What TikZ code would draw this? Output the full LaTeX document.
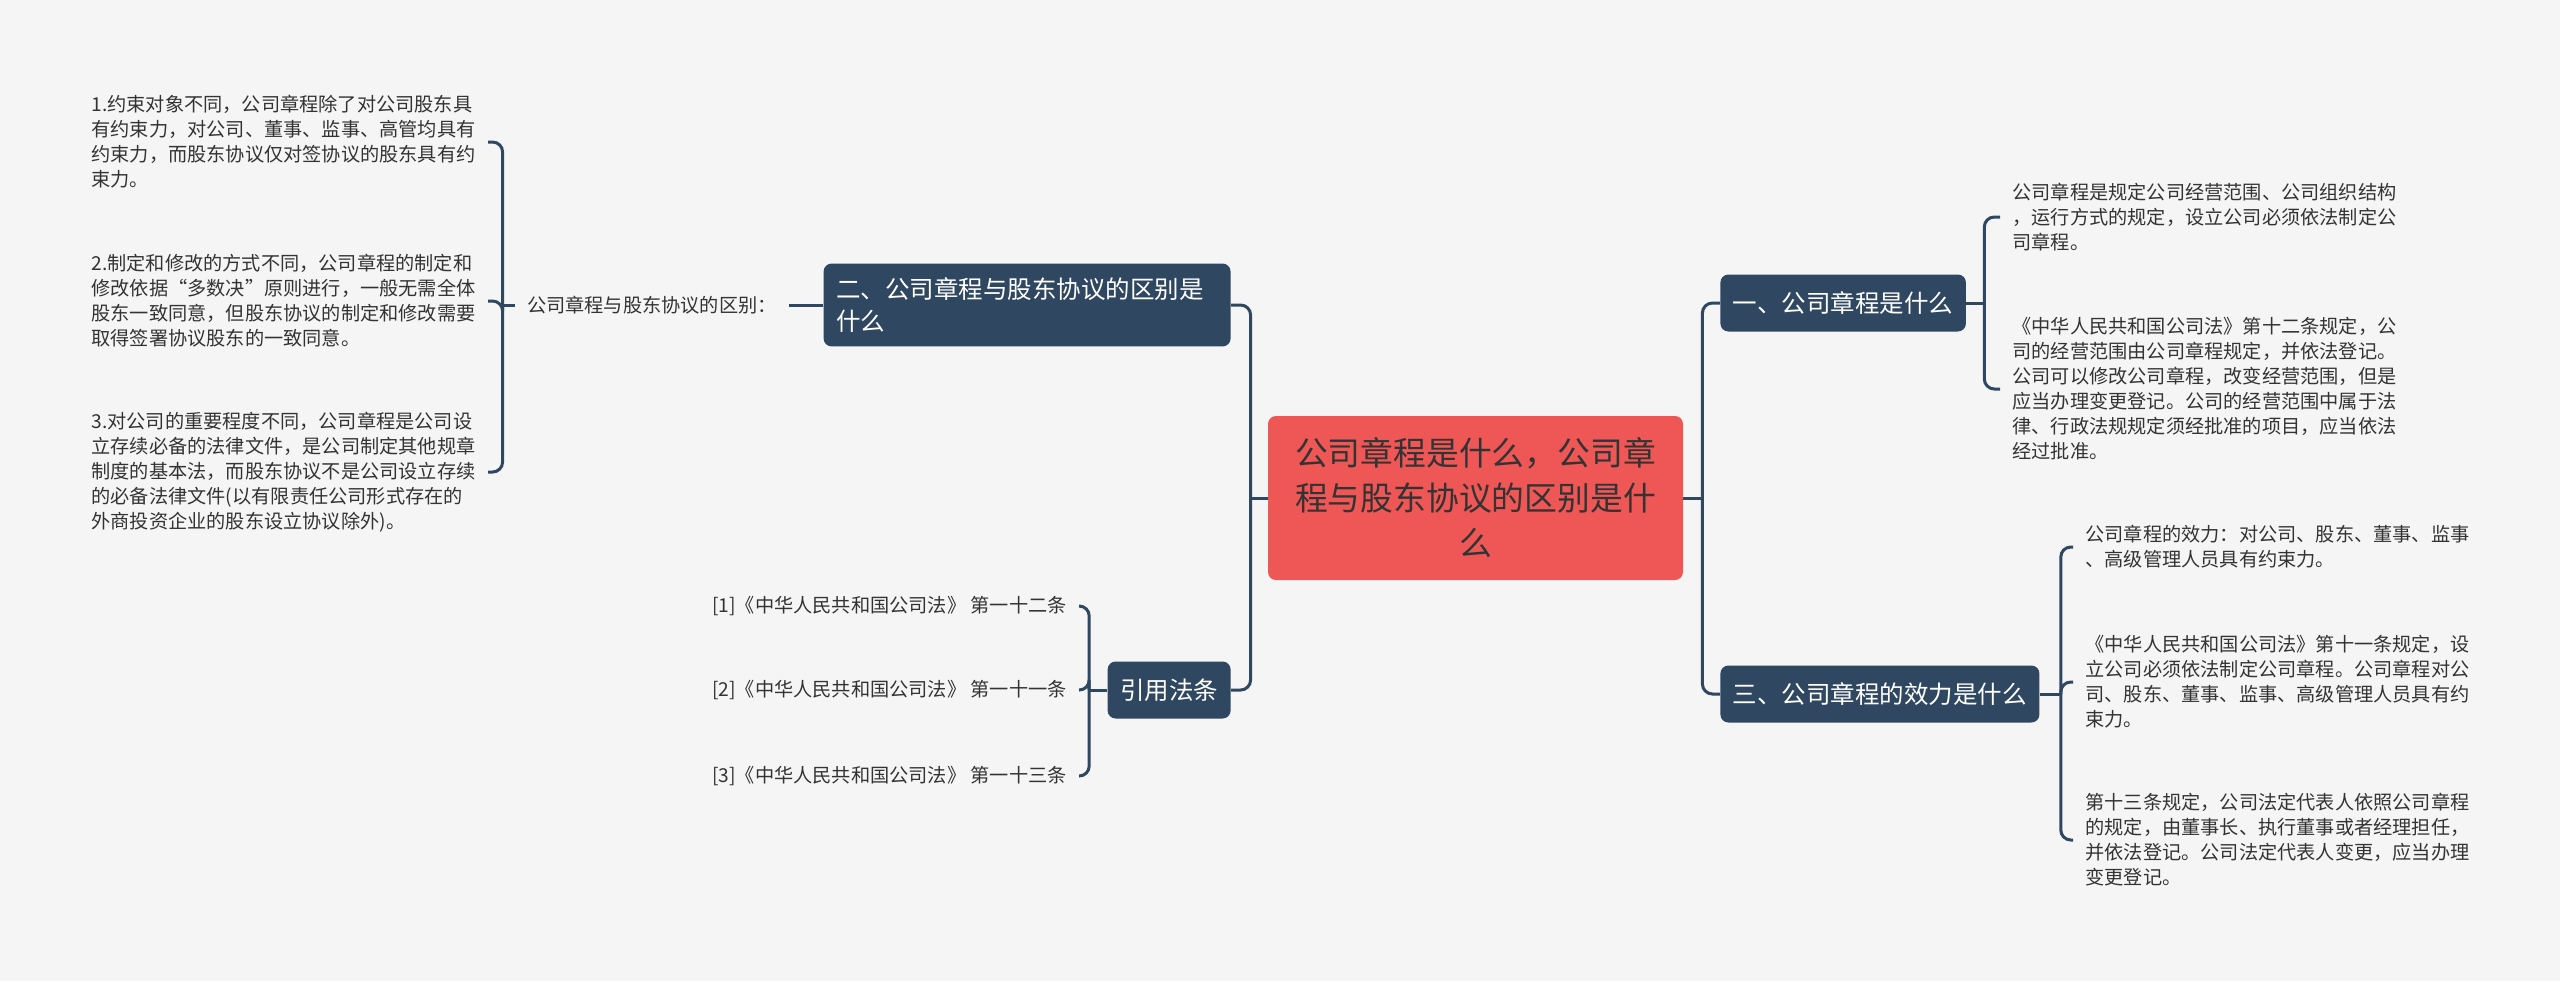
\documentclass[tikz,border=0pt]{standalone}
\usepackage{fontspec}
\setmainfont{Noto Sans CJK SC}
\definecolor{slate}{HTML}{2F4760}
\definecolor{coral}{HTML}{EF5656}
\definecolor{ink}{HTML}{333333}
\definecolor{paper}{HTML}{F5F5F5}
\begin{document}
\begin{tikzpicture}[x=0.5pt,y=-0.5pt,
  root/.style={fill=coral,text=ink,rounded corners=4pt,align=center,font=\fontsize{16.4pt}{22.5pt}\selectfont,minimum width=207.5pt,minimum height=82pt},
  topic/.style={fill=slate,text=white,rounded corners=4pt,align=left,font=\fontsize{12.25pt}{16pt}\selectfont,inner xsep=6.25pt,inner ysep=7pt,minimum height=28.5pt},
  leaf/.style={text=ink,align=left,font=\fontsize{9.6pt}{12.5pt}\selectfont,inner xsep=6pt,inner ysep=2pt},
  link/.style={draw=slate,line width=1.5pt,rounded corners=5pt}]
\fill[paper] (0,0) rectangle (2560,981);
\node[root] (root) at (1475.5,498) {公司章程是什么，公司章\\程与股东协议的区别是什\\么};
\node[topic,anchor=west] (t1) at (1720,303) {一、公司章程是什么};
\node[topic,anchor=west] (t3) at (1720,694) {三、公司章程的效力是什么};
\node[topic,anchor=east,text width=191pt] (t2) at (1231,305) {二、公司章程与股东协议的区别是\\什么};
\node[topic,anchor=east] (cite) at (1231,690) {引用法条};
\node[leaf,anchor=west] (a1) at (2000,217) {公司章程是规定公司经营范围、公司组织结构\\，运行方式的规定，设立公司必须依法制定公\\司章程。};
\node[leaf,anchor=west] (a2) at (2000,389) {《中华人民共和国公司法》第十二条规定，公\\司的经营范围由公司章程规定，并依法登记。\\公司可以修改公司章程，改变经营范围，但是\\应当办理变更登记。公司的经营范围中属于法\\律、行政法规规定须经批准的项目，应当依法\\经过批准。};
\node[leaf,anchor=west] (b1) at (2073,547) {公司章程的效力：对公司、股东、董事、监事\\、高级管理人员具有约束力。};
\node[leaf,anchor=west] (b2) at (2073,682) {《中华人民共和国公司法》第十一条规定，设\\立公司必须依法制定公司章程。公司章程对公\\司、股东、董事、监事、高级管理人员具有约\\束力。};
\node[leaf,anchor=west] (b3) at (2073,840) {第十三条规定，公司法定代表人依照公司章程\\的规定，由董事长、执行董事或者经理担任，\\并依法登记。公司法定代表人变更，应当办理\\变更登记。};
\node[leaf,anchor=east] (lab) at (789,305) {公司章程与股东协议的区别：};
\node[leaf,anchor=east] (d1) at (488,142) {1.约束对象不同，公司章程除了对公司股东具\\有约束力，对公司、董事、监事、高管均具有\\约束力，而股东协议仅对签协议的股东具有约\\束力。};
\node[leaf,anchor=east] (d2) at (488,301) {2.制定和修改的方式不同，公司章程的制定和\\修改依据“多数决”原则进行，一般无需全体\\股东一致同意，但股东协议的制定和修改需要\\取得签署协议股东的一致同意。};
\node[leaf,anchor=east] (d3) at (488,472) {3.对公司的重要程度不同，公司章程是公司设\\立存续必备的法律文件，是公司制定其他规章\\制度的基本法，而股东协议不是公司设立存续\\的必备法律文件(以有限责任公司形式存在的\\外商投资企业的股东设立协议除外)。};
\foreach \i/\t/\y in {1/第一十二条/606,2/第一十一条/690,3/第一十三条/776}
  \node[leaf,anchor=east] (c\i) at (1079,\y) {[\i]《中华人民共和国公司法》 \t};
\draw[link] (root.east) -- ++(19,0) coordinate (jr);
\foreach \n in {t1,t3} \draw[link] (jr) |- (\n.west);
\draw[link] (root.west) -- ++(-17,0) coordinate (jl);
\foreach \n in {t2,cite} \draw[link] (jl) |- (\n.east);
\draw[link] (t1.east) -- ++(18,0) coordinate (j1);
\foreach \n in {a1,a2} \draw[link] (j1) |- (\n.west);
\draw[link] (t3.east) -- ++(21,0) coordinate (j3);
\foreach \n in {b1,b2,b3} \draw[link] (j3) |- (\n.west);
\draw[link] (cite.west) -- ++(-18,0) coordinate (jc);
\foreach \i in {1,2,3} \draw[link] (jc) |- (c\i.east);
\draw[link] (t2.west) -- (lab.east);
\draw[link] (lab.west) -- ++(-12,0) coordinate (jd);
\foreach \n in {d1,d2,d3} \draw[link] (jd) |- (\n.east);
\end{tikzpicture}
\end{document}
